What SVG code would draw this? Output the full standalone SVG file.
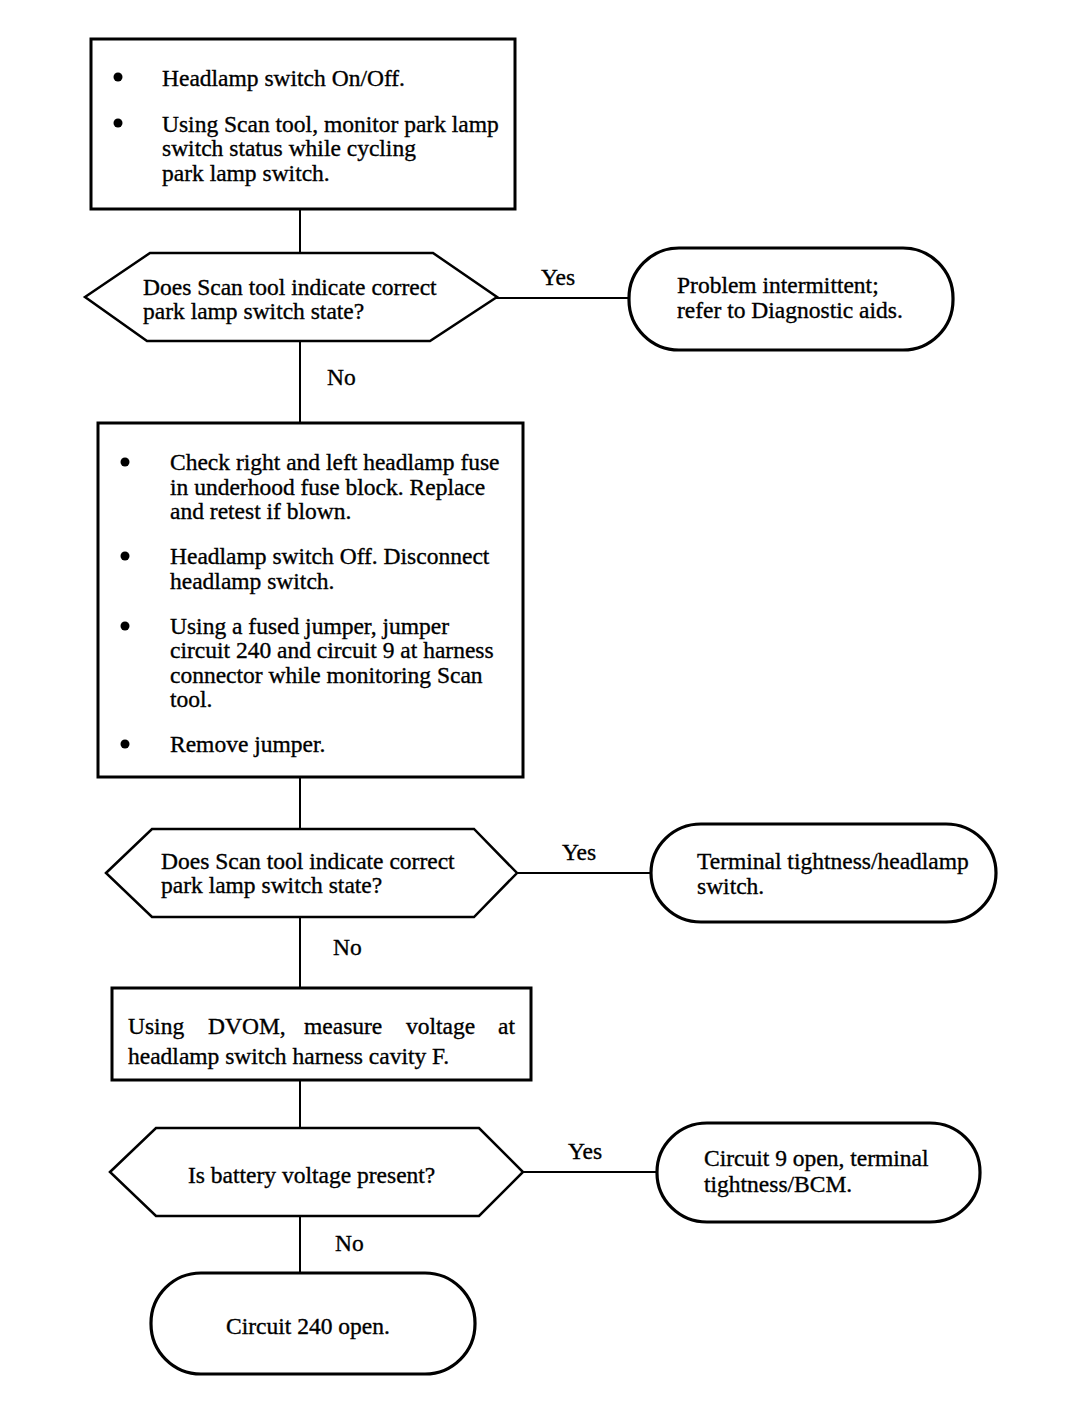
<svg xmlns="http://www.w3.org/2000/svg" width="1072" height="1416" viewBox="0 0 1072 1416">
<style>
.box{fill:none;stroke:#000;stroke-width:3}
.dec{fill:none;stroke:#000;stroke-width:2.5;stroke-linejoin:miter}
.term{fill:none;stroke:#000;stroke-width:3.2}
.ln{stroke:#000;stroke-width:2;fill:none}
text{font-family:"Liberation Serif","Times New Roman",serif;font-size:23.5px;fill:#000;stroke:#000;stroke-width:0.35}
.dot{fill:#000}
</style>
<rect width="1072" height="1416" fill="#fff"/>
<g id="connectors">
<line class="ln" x1="300" y1="209" x2="300" y2="253"/>
<line class="ln" x1="496" y1="298" x2="629" y2="298"/>
<line class="ln" x1="300" y1="341" x2="300" y2="423"/>
<line class="ln" x1="300" y1="777" x2="300" y2="829"/>
<line class="ln" x1="517" y1="873" x2="651" y2="873"/>
<line class="ln" x1="300" y1="917" x2="300" y2="988"/>
<line class="ln" x1="300" y1="1080" x2="300" y2="1128"/>
<line class="ln" x1="523" y1="1172" x2="657" y2="1172"/>
<line class="ln" x1="300" y1="1216" x2="300" y2="1273"/>
<text x="541" y="285">Yes</text>
<text x="327" y="385">No</text>
<text x="562" y="860">Yes</text>
<text x="333" y="955">No</text>
<text x="568" y="1159">Yes</text>
<text x="335" y="1251">No</text>
</g>
<g id="box1">
<rect class="box" x="91" y="39" width="424" height="170"/>
<circle class="dot" cx="118" cy="77" r="4.5"/>
<circle class="dot" cx="118" cy="123" r="4.5"/>
<text x="162" y="86">Headlamp switch On/Off.</text>
<text x="162" y="132">Using Scan tool, monitor park lamp</text>
<text x="162" y="156">switch status while cycling</text>
<text x="162" y="181">park lamp switch.</text>
</g>
<g id="dec1">
<polygon class="dec" points="85,297 150,253 433,253 497,297 430,341 147,341"/>
<text x="143" y="295">Does Scan tool indicate correct</text>
<text x="143" y="319">park lamp switch state?</text>
</g>
<g id="term1">
<rect class="term" x="629" y="248" width="324" height="102" rx="50" ry="50"/>
<text x="677" y="293">Problem intermittent;</text>
<text x="677" y="318">refer to Diagnostic aids.</text>
</g>
<g id="box2">
<rect class="box" x="98" y="423" width="425" height="354"/>
<circle class="dot" cx="125" cy="462" r="4.5"/>
<circle class="dot" cx="125" cy="556" r="4.5"/>
<circle class="dot" cx="125" cy="626" r="4.5"/>
<circle class="dot" cx="125" cy="744" r="4.5"/>
<text x="170" y="470">Check right and left headlamp fuse</text>
<text x="170" y="495">in underhood fuse block. Replace</text>
<text x="170" y="519">and retest if blown.</text>
<text x="170" y="564">Headlamp switch Off. Disconnect</text>
<text x="170" y="589">headlamp switch.</text>
<text x="170" y="634">Using a fused jumper, jumper</text>
<text x="170" y="658">circuit 240 and circuit 9 at harness</text>
<text x="170" y="683">connector while monitoring Scan</text>
<text x="170" y="707">tool.</text>
<text x="170" y="752">Remove jumper.</text>
</g>
<g id="dec2">
<polygon class="dec" points="106,873 152,829 474,829 517,873 474,917 152,917"/>
<text x="161" y="869">Does Scan tool indicate correct</text>
<text x="161" y="893">park lamp switch state?</text>
</g>
<g id="term2">
<rect class="term" x="651" y="824" width="345" height="98" rx="50" ry="49"/>
<text x="697" y="869">Terminal tightness/headlamp</text>
<text x="697" y="894">switch.</text>
</g>
<g id="box3">
<rect class="box" x="112" y="988" width="419" height="92"/>
<text y="1034"><tspan x="128">Using</tspan><tspan x="208">DVOM,</tspan><tspan x="304">measure</tspan><tspan x="406">voltage</tspan><tspan x="498">at</tspan></text>
<text x="128" y="1064">headlamp switch harness cavity F.</text>
</g>
<g id="dec3">
<polygon class="dec" points="110,1172 156,1128 479,1128 523,1172 479,1216 156,1216"/>
<text x="188" y="1183">Is battery voltage present?</text>
</g>
<g id="term3">
<rect class="term" x="657" y="1123" width="323" height="99" rx="50" ry="49"/>
<text x="704" y="1166">Circuit 9 open, terminal</text>
<text x="704" y="1192">tightness/BCM.</text>
</g>
<g id="term4">
<rect class="term" x="151" y="1273" width="324" height="101" rx="50" ry="50"/>
<text x="308" y="1334" text-anchor="middle">Circuit 240 open.</text>
</g>
</svg>
